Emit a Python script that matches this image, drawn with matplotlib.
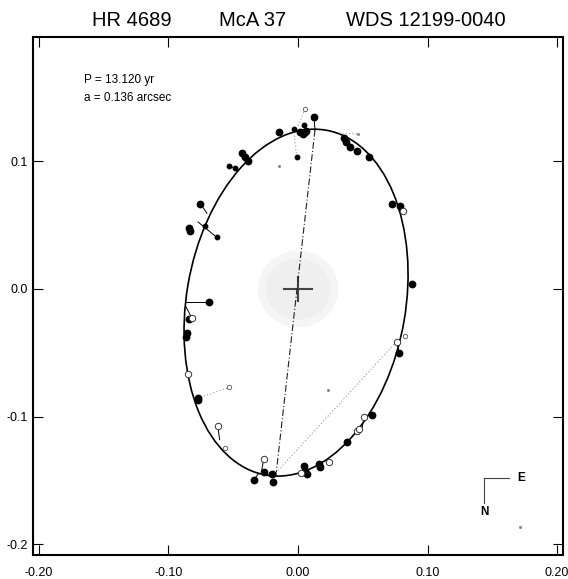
import matplotlib
matplotlib.use('Agg')
import matplotlib.pyplot as plt
from matplotlib.patches import Ellipse

plt.rcParams['font.family'] = ['Liberation Sans', 'DejaVu Sans']

# orbit ellipse (center, full axes, tilt)
orbit_center = (-0.0015, -0.0107)
orbit_width = 0.1692
orbit_height = 0.274
orbit_angle = -9.6

# observations
big_x = [0.0124, 0.0015, 0.0036, 0.0054, 0.0062, -0.0149, 0.0358, 0.0371, 0.0402, 0.0453,
         0.0551, -0.0432, -0.0388, -0.0410, -0.0754, -0.0832, -0.0840, 0.0724, 0.0788, 0.0878,
         -0.0690, -0.0839, -0.0859, -0.0863, -0.0775, -0.0770, -0.0265, -0.0342, -0.0203, -0.0193,
         0.0049, 0.0056, 0.0069, 0.0164, 0.0170, 0.0378, 0.0569, 0.0778]
big_y = [0.1345, 0.1232, 0.1211, 0.1227, 0.1237, 0.1232, 0.1180, 0.1153, 0.1114, 0.1083,
         0.1036, 0.1063, 0.1005, 0.1034, 0.0668, 0.0457, 0.0475, 0.0666, 0.0650, 0.0037,
         -0.0104, -0.0235, -0.0342, -0.0378, -0.0856, -0.0870, -0.1435, -0.1496, -0.1449, -0.1509,
         -0.1386, -0.1423, -0.1449, -0.1370, -0.1396, -0.1200, -0.0987, -0.0499]

small_x = [0.0046, -0.0029, -0.0010, -0.0530, -0.0484, -0.0718, -0.0628]
small_y = [0.1284, 0.1251, 0.1036, 0.0963, 0.0945, 0.0493, 0.0405]

open_x = [-0.0819, -0.0852, -0.0620, -0.0265, 0.0023, 0.0237, 0.0456, 0.0473, 0.0512, 0.0762, 0.0813]
open_y = [-0.0229, -0.0666, -0.1070, -0.1334, -0.1439, -0.1352, -0.1110, -0.1099, -0.1005, -0.0415, 0.0611]

open_small_x = [0.0054, -0.0531, -0.0564, 0.0826]
open_small_y = [0.1407, -0.0770, -0.1247, -0.0368]

speck_x = [-0.0149, 0.0229, 0.0461, 0.1714]
speck_y = [0.0966, -0.0791, 0.1214, -0.1864]

# O-C residual lines: observed -> predicted
oc_x0 = [0.0124, -0.0530, -0.0754, -0.0628, -0.0690, -0.0819, -0.0620, -0.0265, -0.0342, 0.0512, 0.0762]
oc_y0 = [0.1345, 0.0963, 0.0668, 0.0405, -0.0104, -0.0229, -0.1070, -0.1334, -0.1496, -0.1005, -0.0415]
oc_x1 = [0.0131, -0.0484, -0.0703, -0.0772, -0.0865, -0.0865, -0.0605, -0.0282, -0.0305, 0.0494, 0.0778]
oc_y1 = [0.1245, 0.0945, 0.0593, 0.0525, -0.0104, -0.0139, -0.1180, -0.1430, -0.1445, -0.1088, -0.0480]

dot_x0 = [0.0054, -0.0010, -0.0775, -0.0170, 0.0317]
dot_y0 = [0.1407, 0.1036, -0.0856, -0.1440, 0.1222]
dot_x1 = [-0.0002, -0.0031, -0.0531, 0.0757, 0.0461]
dot_y1 = [0.1271, 0.1237, -0.0770, -0.0415, 0.1214]

# line of nodes
node_x = [0.0131, -0.0170]
node_y = [0.1245, -0.1456]

fig = plt.figure(figsize=(5.68, 5.79), dpi=100)
ax = fig.add_axes([33/568, 1-555/579, 530/568, 518/579])

# faint halo around the primary
ax.add_patch(Ellipse((0, 0), 0.062, 0.060, facecolor='#f5f5f5', edgecolor='none', zorder=0))
ax.add_patch(Ellipse((0, 0), 0.050, 0.048, facecolor='#efefef', edgecolor='none', zorder=0))
ax.plot([-0.011, 0.011], [0, 0], color='#444444', lw=1.5, zorder=1)
ax.plot([0, 0], [-0.0095, 0.0095], color='#444444', lw=1.5, zorder=1)

ax.add_patch(Ellipse(orbit_center, orbit_width, orbit_height, angle=orbit_angle,
                     facecolor='none', edgecolor='black', lw=1.2, zorder=2))

ax.plot(node_x, node_y, color='#222222', lw=0.8, ls=(0, (6, 2, 1, 2)), zorder=2)

for x0, y0, x1, y1 in zip(dot_x0, dot_y0, dot_x1, dot_y1):
    ax.plot([x0, x1], [y0, y1], color='#999999', lw=0.8, ls=(0, (1, 2)), zorder=2)
for x0, y0, x1, y1 in zip(oc_x0, oc_y0, oc_x1, oc_y1):
    ax.plot([x0, x1], [y0, y1], color='black', lw=0.7, zorder=3)

ax.plot(big_x, big_y, 'o', color='black', ms=4.6, zorder=4)
ax.plot(small_x, small_y, 'o', color='black', ms=3.2, zorder=4)
ax.plot(open_x, open_y, 'o', mfc='white', mec='#333333', mew=0.7, ms=4.6, zorder=4)
ax.plot(open_small_x, open_small_y, 'o', mfc='white', mec='#555555', mew=0.6, ms=3.2, zorder=4)
ax.plot(speck_x, speck_y, 'o', color='#888888', ms=1.2, zorder=4)

# compass
ax.plot([0.1439, 0.1632], [-0.1482, -0.1482], color='#444444', lw=0.8)
ax.plot([0.1439, 0.1439], [-0.1482, -0.1678], color='#444444', lw=0.8)
ax.text(0.1722, -0.1482, 'E', fontsize=8.5, fontweight='bold', ha='center', va='center')
ax.text(0.1439, -0.1744, 'N', fontsize=8.5, fontweight='bold', ha='center', va='center')

fig.text(84/568, 1-80/579, 'P = 13.120 yr', fontsize=8.5, va='center')
fig.text(84/568, 1-98/579, 'a = 0.136 arcsec', fontsize=8.5, va='center')

fig.text(132/568, 1-21/579, 'HR 4689', fontsize=14.5, ha='center', va='center')
fig.text(253/568, 1-21/579, 'McA 37', fontsize=14.5, ha='center', va='center')
fig.text(426/568, 1-21/579, 'WDS 12199-0040', fontsize=14.5, ha='center', va='center')

ax.set_xlim(-0.2046, 0.2046)
ax.set_ylim(-0.2083, 0.1973)
ax.set_xticks([-0.2, -0.1, 0.0, 0.1, 0.2])
ax.set_xticklabels(['-0.20', '-0.10', '0.00', '0.10', '0.20'])
ax.set_yticks([-0.2, -0.1, 0.0, 0.1])
ax.set_yticklabels(['-0.2', '-0.1', '0.0', '0.1'])
ax.tick_params(direction='in', length=7, width=0.8, top=True, right=True, labelsize=9)
ax.tick_params(axis='x', pad=9)
ax.tick_params(axis='y', pad=4)
for s in ax.spines.values():
    s.set_linewidth(1.5)

plt.savefig('out.png', dpi=100)
